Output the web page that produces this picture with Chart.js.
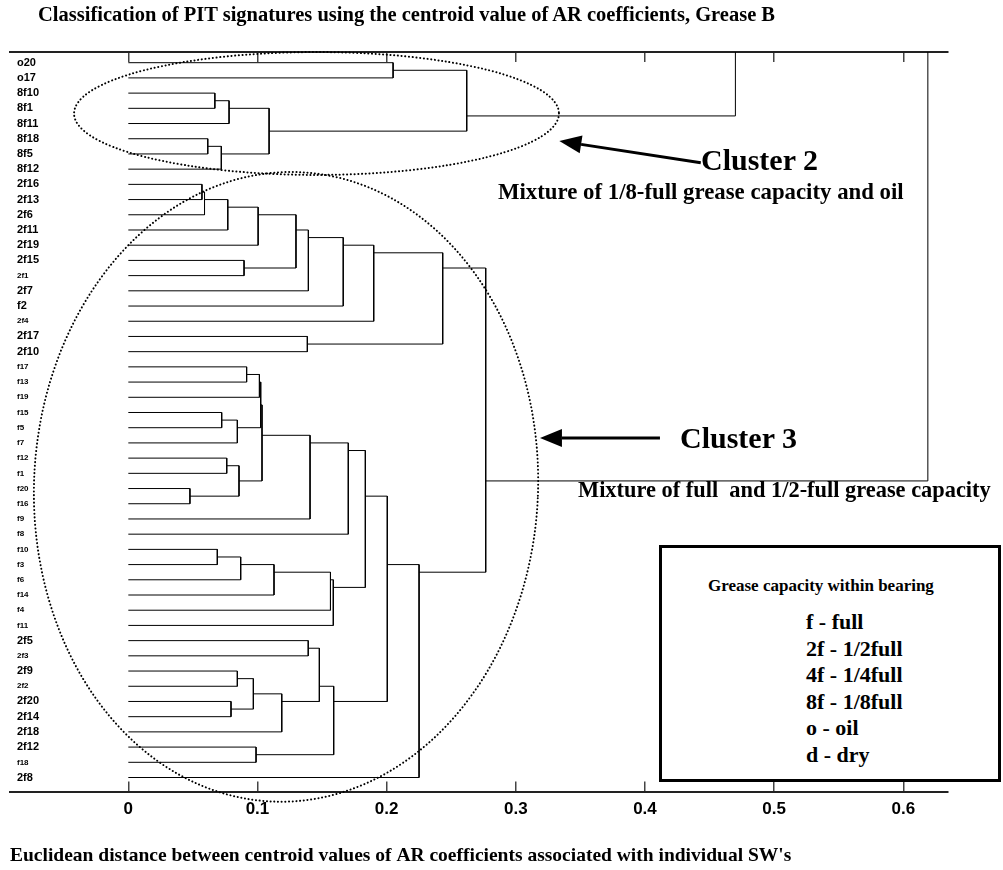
<!DOCTYPE html>
<html>
<head>
<meta charset="utf-8">
<title>PIT signatures, Grease B</title>
<script src="https://cdn.jsdelivr.net/npm/chart.js@4.4.1/dist/chart.umd.min.js"></script>
<style>
  body { margin: 0; background: #fff; }
  #wrap { position: relative; width: 1003px; height: 870px; overflow: hidden; }
  #wrap canvas { position: absolute; left: 0; top: 0; }
  .txt { position: absolute; margin: 0; color: #000; white-space: pre; line-height: 1;
         font-family: 'Liberation Serif', 'Times New Roman', serif; font-weight: bold; }
  #title { left: 38px; top: 4px; font-size: 20.5px; }
  #c2 { left: 701px; top: 145px; font-size: 30px; }
  #c2note { left: 498px; top: 181px; font-size: 22.8px; }
  #c3 { left: 680px; top: 423px; font-size: 30px; }
  #c3note { left: 578px; top: 479px; font-size: 22.4px; }
  #key { position: absolute; left: 659px; top: 545px; width: 336px; height: 231px;
         border: 3px solid #000; background: #fff; }
  #keyTitle { left: 46px; top: 29px; font-size: 17px; }
  #keyItems { left: 144px; top: 61px; font-size: 22px; line-height: 26.6px; }
</style>
</head>
<body>
<div id="wrap">
  <canvas id="dendro" width="1003" height="870"></canvas>
  <div class="txt" id="title">Classification of PIT signatures using the centroid value of AR coefficients, Grease B</div>
  <div class="txt" id="c2">Cluster 2</div>
  <div class="txt" id="c2note">Mixture of 1/8-full grease capacity and oil</div>
  <div class="txt" id="c3">Cluster 3</div>
  <div class="txt" id="c3note">Mixture of full  and 1/2-full grease capacity</div>
  <div id="key">
    <div class="txt" id="keyTitle">Grease capacity within bearing</div>
    <div class="txt" id="keyItems"></div>
  </div>
</div>
<script>
// leaves, top to bottom
const leafLabels = ['o20', 'o17', '8f10', '8f1', '8f11', '8f18', '8f5', '8f12',
  '2f16', '2f13', '2f6', '2f11', '2f19', '2f15', '2f1', '2f7', 'f2', '2f4', '2f17', '2f10',
  'f17', 'f13', 'f19', 'f15', 'f5', 'f7', 'f12', 'f1', 'f20', 'f16', 'f9', 'f8',
  'f10', 'f3', 'f6', 'f14', 'f4', 'f11',
  '2f5', '2f3', '2f9', '2f2', '2f20', '2f14', '2f18', '2f12', 'f18', '2f8'];

// leaves printed in the smaller font
const smallLabels = ['2f1', '2f4', 'f17', 'f13', 'f19', 'f15', 'f5', 'f7', 'f12', 'f1', 'f20', 'f16',
  'f9', 'f8', 'f10', 'f3', 'f6', 'f14', 'f4', 'f11', '2f3', '2f2', 'f18'];

// ABOVE = a branch that continues past the top of the axes
const ABOVE = 'above';

// [node, left, right, distance]
const cluster2Links = [
  ['A', 'o20', 'o17', 0.205],
  ['B', '8f10', '8f1', 0.067],
  ['C', 'B', '8f11', 0.078],
  ['D', '8f18', '8f5', 0.0615],
  ['E', 'D', '8f12', 0.072],
  ['F', 'C', 'E', 0.109],
  ['G', 'A', 'F', 0.262]
];

const halfFullLinks = [
  ['H', '2f16', '2f13', 0.057],
  ['I', 'H', '2f6', 0.059],
  ['J', 'I', '2f11', 0.077],
  ['K', 'J', '2f19', 0.1005],
  ['L', '2f15', '2f1', 0.0896],
  ['M', 'K', 'L', 0.1298],
  ['N', 'M', '2f7', 0.1394],
  ['O', 'N', 'f2', 0.1664],
  ['P', 'O', '2f4', 0.19],
  ['Q1', '2f17', '2f10', 0.1386],
  ['Q', 'P', 'Q1', 0.2434]
];

const fullLinks = [
  ['T1', 'f17', 'f13', 0.0916],
  ['T2', 'T1', 'f19', 0.1015],
  ['T3', 'f15', 'f5', 0.0723],
  ['T4', 'T3', 'f7', 0.0844],
  ['T5', 'f12', 'f1', 0.0762],
  ['T6', 'f20', 'f16', 0.0477],
  ['T7', 'T5', 'T6', 0.0857],
  ['U1', 'T2', 'T4', 0.1025],
  ['U2', 'U1', 'T7', 0.1035],
  ['V', 'U2', 'f9', 0.1407],
  ['W', 'V', 'f8', 0.1703],
  ['Y1', 'f10', 'f3', 0.0689],
  ['Y2', 'Y1', 'f6', 0.087],
  ['Y3', 'Y2', 'f14', 0.1128],
  ['Y4', 'Y3', 'f4', 0.1565],
  ['Y5', 'Y4', 'f11', 0.1587],
  ['X', 'W', 'Y5', 0.1835],
  ['Z1', '2f5', '2f3', 0.1393],
  ['Z2', '2f9', '2f2', 0.0844],
  ['Z3', '2f20', '2f14', 0.0795],
  ['Z4', 'Z2', 'Z3', 0.0968],
  ['Z5', 'Z4', '2f18', 0.1188],
  ['Z6', 'Z1', 'Z5', 0.1479],
  ['Z7', '2f12', 'f18', 0.0989],
  ['Z8', 'Z6', 'Z7', 0.159],
  ['AA', 'X', 'Z8', 0.2005],
  ['S', 'AA', '2f8', 0.2251],
  ['R', 'Q', 'S', 0.2767]
];

const upperLinks = [
  ['K2', 'G', ABOVE, 0.47],
  ['ROOT', 'R', ABOVE, 0.619]
];

const distanceTicks = [0, 0.1, 0.2, 0.3, 0.4, 0.5, 0.6];
const distanceTickLabels = ['0', '0.1', '0.2', '0.3', '0.4', '0.5', '0.6'];

const capacityCodes = ['f - full', '2f - 1/2full', '4f - 1/4full', '8f - 1/8full', 'o - oil', 'd - dry'];

// axis ranges
const X_MIN = -0.0916, X_MAX = 0.6346;
const Y_MIN = 0.297, Y_MAX = 48.92;
const ABOVE_Y = -8;

document.getElementById('keyItems').textContent = capacityCodes.join('\n');

// a cluster sits at the mean position of its leaves
const nodes = {};
leafLabels.forEach((name, i) => { nodes[name] = { x: 0, leaves: [i + 1] }; });
nodes[ABOVE] = { x: 0, y: ABOVE_Y };
const nodeY = n => n.leaves ? n.leaves.reduce((a, b) => a + b, 0) / n.leaves.length : n.y;

const datasets = [];
[...cluster2Links, ...halfFullLinks, ...fullLinks, ...upperLinks].forEach(([id, a, b, h]) => {
  const na = nodes[a], nb = nodes[b];
  const ya = nodeY(na), yb = nodeY(nb);
  datasets.push({
    data: [{ x: na.x, y: ya }, { x: h, y: ya }, { x: h, y: yb }, { x: nb.x, y: yb }],
    showLine: true,
    borderColor: '#000',
    borderWidth: 1,
    pointRadius: 0,
    fill: false,
    tension: 0
  });
  nodes[id] = (na.leaves && nb.leaves)
    ? { x: h, leaves: na.leaves.concat(nb.leaves) }
    : { x: h, y: ABOVE_Y };
});

// dotted rings around the clusters and the pointer arrows (data units)
const rings = [
  { cx: 0.1457, cy: 4.34, rx: 0.1877, ry: 4.04, tilt: 0 },
  { cx: 0.1221, cy: 28.89, rx: 0.1951, ry: 20.71, tilt: 0.045 }
];
const arrows = [
  { from: [0.4432, 7.58], to: [0.3337, 6.15] },
  { from: [0.4116, 25.68], to: [0.3187, 25.68] }
];

const callouts = {
  id: 'callouts',
  afterDatasetsDraw(chart) {
    const { ctx, scales: { x, y } } = chart;
    ctx.save();
    ctx.strokeStyle = '#000';
    ctx.lineWidth = 2;
    ctx.lineCap = 'round';
    ctx.setLineDash([0.1, 3.6]);
    rings.forEach(r => {
      const cx = x.getPixelForValue(r.cx), cy = y.getPixelForValue(r.cy);
      const rx = x.getPixelForValue(r.cx + r.rx) - cx;
      const ry = y.getPixelForValue(r.cy + r.ry) - cy;
      ctx.beginPath();
      ctx.ellipse(cx, cy, rx, ry, r.tilt, 0, Math.PI * 2);
      ctx.stroke();
    });
    ctx.setLineDash([]);
    ctx.lineCap = 'butt';
    ctx.fillStyle = '#000';
    arrows.forEach(a => {
      const x0 = x.getPixelForValue(a.from[0]), y0 = y.getPixelForValue(a.from[1]);
      const x1 = x.getPixelForValue(a.to[0]), y1 = y.getPixelForValue(a.to[1]);
      const ang = Math.atan2(y1 - y0, x1 - x0);
      const head = 22, half = 9;
      const bx = x1 - head * Math.cos(ang), by = y1 - head * Math.sin(ang);
      ctx.lineWidth = 3;
      ctx.beginPath();
      ctx.moveTo(x0, y0);
      ctx.lineTo(bx, by);
      ctx.stroke();
      ctx.beginPath();
      ctx.moveTo(x1, y1);
      ctx.lineTo(bx + half * Math.sin(ang), by - half * Math.cos(ang));
      ctx.lineTo(bx - half * Math.sin(ang), by + half * Math.cos(ang));
      ctx.closePath();
      ctx.fill();
    });
    ctx.restore();
  }
};

const setTicks = s => { s.ticks = distanceTicks.map(v => ({ value: v })); };

new Chart(document.getElementById('dendro'), {
  type: 'scatter',
  data: { datasets },
  plugins: [callouts],
  options: {
    responsive: false,
    devicePixelRatio: 1,
    animation: false,
    events: [],
    layout: { padding: { left: 3, right: 55, top: 52, bottom: 0 } },
    plugins: { legend: { display: false }, tooltip: { enabled: false } },
    scales: {
      x: {
        type: 'linear',
        position: 'bottom',
        min: X_MIN,
        max: X_MAX,
        afterBuildTicks: setTicks,
        afterFit: s => { s.height = 78.5; },
        border: { display: true, color: '#222', width: 2 },
        grid: { display: true, drawOnChartArea: false, drawTicks: true, tickLength: -10, color: '#444', lineWidth: 1.5 },
        ticks: {
          autoSkip: false,
          maxRotation: 0,
          padding: 18,
          color: '#000',
          font: { family: 'Liberation Sans', weight: 'bold', size: 17 },
          callback: v => distanceTickLabels[distanceTicks.indexOf(v)]
        },
        title: {
          display: true,
          align: 'start',
          text: "Euclidean distance between centroid values of AR coefficients associated with individual SW's",
          color: '#000',
          font: { family: 'Liberation Serif', weight: 'bold', size: 19.5 },
          padding: { top: 0, bottom: 2 }
        }
      },
      x2: {
        type: 'linear',
        axis: 'x',
        position: 'top',
        min: X_MIN,
        max: X_MAX,
        afterBuildTicks: setTicks,
        afterFit: s => { s.height = 0; },
        border: { display: true, color: '#222', width: 2 },
        grid: { display: true, drawOnChartArea: false, drawTicks: true, tickLength: -10, color: '#444', lineWidth: 1.5 },
        ticks: { display: false }
      },
      y: {
        type: 'linear',
        position: 'left',
        min: Y_MIN,
        max: Y_MAX,
        reverse: true,
        afterBuildTicks: s => { s.ticks = leafLabels.map((_, i) => ({ value: i + 1 })); },
        afterFit: s => { s.width = 7; },
        border: { display: false },
        grid: { display: false, drawTicks: false },
        ticks: {
          mirror: true,
          padding: 7,
          autoSkip: false,
          color: '#000',
          callback: v => leafLabels[Math.round(v) - 1],
          font: ctx => ({
            family: 'Liberation Sans',
            weight: 'bold',
            size: smallLabels.includes(leafLabels[ctx.index]) ? 8 : 11
          })
        }
      }
    }
  }
});
</script>
</body>
</html>
